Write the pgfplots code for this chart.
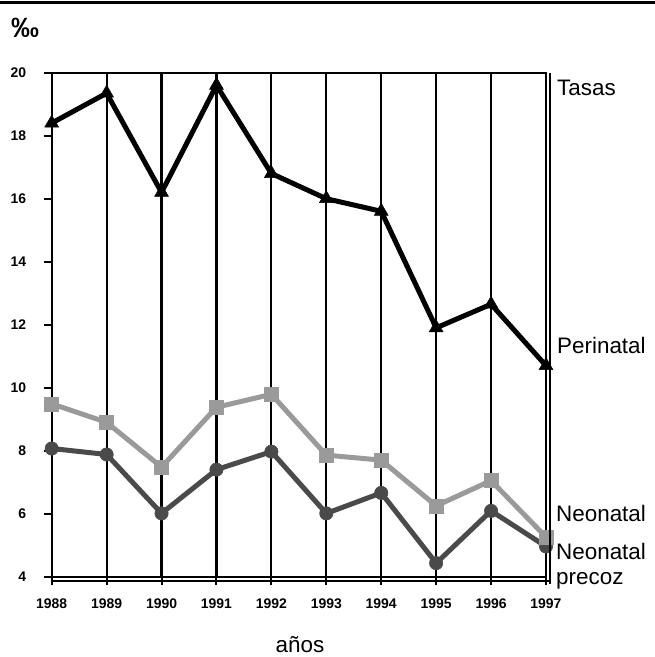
\documentclass[border=0pt]{standalone}
\usepackage{fontspec}
\setmainfont{Liberation Sans}
\usepackage{pgfplots}
\pgfplotsset{compat=1.18}
\definecolor{lgray}{HTML}{9A9A9A}
\definecolor{dgray}{HTML}{4A4A4A}
\begin{document}
\begin{tikzpicture}[x=1bp,y=1bp]
\path[use as bounding box] (0,0) rectangle (655,-657);
\draw[line width=3bp] (0,-2.5) -- (655,-2.5);
\node[font=\bfseries\fontsize{28}{28}\selectfont, inner sep=0pt] at (25,-28) {‰};
\begin{axis}[
  at={(51.7bp,-576.7bp)}, anchor=south west,
  scale only axis, width=494.3bp, height=504bp,
  xmin=1988, xmax=1997, ymin=4, ymax=20,
  xtick={1988,1989,...,1997}, ytick={4,6,...,20},
  axis line style={line width=2bp},
  tick align=outside, xtick pos=bottom, ytick pos=left,
  major tick length=8bp,
  tick style={line width=2bp, black},
  xmajorgrids, grid style={line width=2.2bp, black},
  /pgf/number format/assume math mode=true,
  /pgf/number format/1000 sep={},
  ticklabel style={font=\bfseries\fontsize{14}{14}\selectfont},
  xticklabel style={yshift=-11bp},
  yticklabel style={xshift=-14bp},
  clip=false,
]
\addplot[dgray, line width=5bp, mark=*, mark size=6.7bp, mark options={solid, fill=dgray, line width=0.5bp}] coordinates {
 (1988,8.07) (1989,7.88) (1990,6.01) (1991,7.4) (1992,7.97) (1993,6.01) (1994,6.66) (1995,4.43) (1996,6.09) (1997,4.96)};
\addplot[lgray, line width=5bp, mark=square*, mark size=7bp, mark options={solid, fill=lgray, line width=0.5bp}] coordinates {
 (1988,9.49) (1989,8.9) (1990,7.48) (1991,9.38) (1992,9.79) (1993,7.86) (1994,7.7) (1995,6.25) (1996,7.05) (1997,5.26)};
\addplot[black, line width=5bp, mark=triangle*, mark size=8bp, mark options={solid, fill=black, line width=0.5bp}] coordinates {
 (1988,18.4) (1989,19.35) (1990,16.2) (1991,19.6) (1992,16.8) (1993,16.0) (1994,15.6) (1995,11.9) (1996,12.65) (1997,10.7)};
\end{axis}
\draw[line width=2bp] (51.7,-580.7) -- (550,-580.7);
\draw[line width=2bp] (549.7,-72.7) -- (549.7,-584);
\begin{scope}[every node/.style={font=\fontsize{22.5}{25}\selectfont, inner sep=0pt}]
\node[anchor=base west] at (557,-96) {Tasas};
\node[anchor=base west] at (557,-353) {Perinatal};
\node[anchor=base west] at (556,-521) {Neonatal};
\node[anchor=base west, align=left] at (556,-584) {Neonatal\\precoz};
\node[anchor=base] at (300,-652) {años};
\end{scope}
\end{tikzpicture}
\end{document}
